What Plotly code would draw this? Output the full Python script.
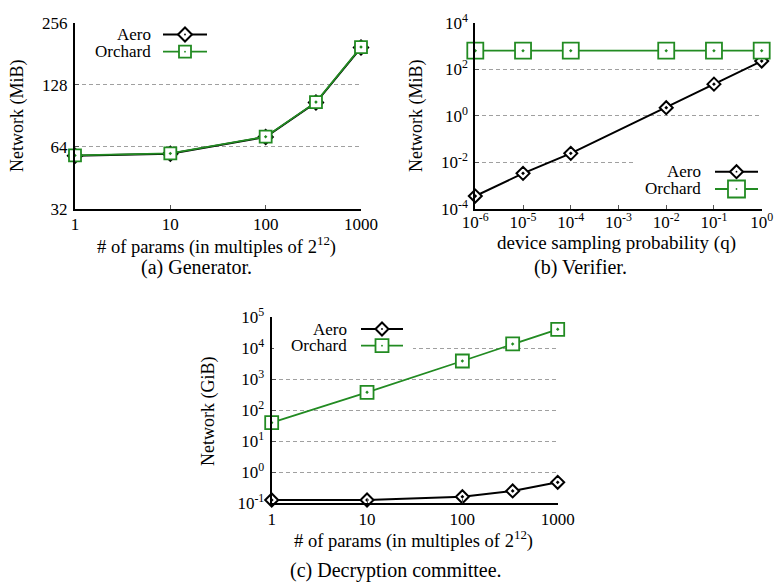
import plotly.graph_objects as go

# ---------------- data ----------------
params = [1, 10, 100, 337, 1000]
gen_aero = [58.0, 59.3, 71.5, 105.0, 194.0]
gen_orchard = [58.2, 59.5, 71.7, 105.5, 195.0]

q_vals = [1e-6, 1e-5, 1e-4, 1e-2, 1e-1, 1.0]
ver_aero = [3.6e-4, 3.4e-3, 0.0245, 2.24, 23.0, 225.0]
ver_orchard = [630.0, 630.0, 630.0, 630.0, 630.0, 630.0]

dec_aero = [0.128, 0.128, 0.163, 0.25, 0.475]
dec_orchard = [40.0, 380.0, 3900.0, 13800.0, 41000.0]

param_ticks = [1, 10, 100, 1000]
param_ticktext = ["1", "10", "100", "1000"]
gen_yticks = [32, 64, 128, 256]
q_ticks = [1e-6, 1e-5, 1e-4, 1e-3, 1e-2, 1e-1, 1.0]
q_ticktext = ["10<sup>-6</sup>", "10<sup>-5</sup>", "10<sup>-4</sup>", "10<sup>-3</sup>",
              "10<sup>-2</sup>", "10<sup>-1</sup>", "10<sup>0</sup>"]
ver_yticks = [1e-4, 1e-2, 1.0, 1e2, 1e4]
ver_yticktext = ["10<sup>-4</sup>", "10<sup>-2</sup>", "10<sup>0</sup>", "10<sup>2</sup>", "10<sup>4</sup>"]
dec_yticks = [0.1, 1, 10, 100, 1e3, 1e4, 1e5]
dec_yticktext = ["10<sup>-1</sup>", "10<sup>0</sup>", "10<sup>1</sup>", "10<sup>2</sup>",
                 "10<sup>3</sup>", "10<sup>4</sup>", "10<sup>5</sup>"]

# ---------------- style ----------------
W, H = 774, 585
FONT = "Liberation Serif"
BLACK = "#000000"
GREEN = "#228b22"


def px(x):
    return x / W


def py(y):
    return 1 - y / H


fig = go.Figure()


def add_pair(xs, ya, yo, xa, yax, dsize, ssize):
    fig.add_trace(go.Scatter(
        x=xs, y=ya, name="Aero", mode="lines+markers", xaxis=xa, yaxis=yax,
        line=dict(color=BLACK, width=2),
        marker=dict(symbol="diamond-dot", size=dsize, color="white",
                    line=dict(color=BLACK, width=2)),
        cliponaxis=False, showlegend=False))
    fig.add_trace(go.Scatter(
        x=xs, y=yo, name="Orchard", mode="lines+markers", xaxis=xa, yaxis=yax,
        line=dict(color=GREEN, width=1.8),
        marker=dict(symbol="square-dot", size=ssize, color="white",
                    line=dict(color=GREEN, width=1.8)),
        cliponaxis=False, showlegend=False))


add_pair(params, gen_aero, gen_orchard, "x", "y", 11, 12)
add_pair(q_vals, ver_aero, ver_orchard, "x2", "y2", 10, 16)
add_pair(params, dec_aero, dec_orchard, "x3", "y3", 10, 13)

axis_common = dict(
    showline=True, linecolor=BLACK, linewidth=2, mirror=False,
    ticks="inside", ticklen=4, tickwidth=1, tickcolor="#555",
    tickfont=dict(family=FONT, size=17, color=BLACK),
    zeroline=False, automargin=False,
)
ylab = dict(ticklabelstandoff=2)
ygrid = dict(showgrid=True, gridcolor="#a0a0a0", griddash="4px,3px", gridwidth=1)

# panel pixel boxes: (left, top, right, bottom)
A = (75, 22.7, 361, 209)
B = (475.3, 22.7, 761.7, 209)
C = (271.7, 317.3, 557.7, 503.3)


def dom(box):
    l, t, r, b = box
    return [px(l), px(r)], [py(b), py(t)]


ax_dom, ay_dom = dom(A)
bx_dom, by_dom = dom(B)
cx_dom, cy_dom = dom(C)

fig.update_layout(
    width=W, height=H, margin=dict(l=0, r=0, t=0, b=0, autoexpand=False),
    paper_bgcolor="white", plot_bgcolor="white",
    font=dict(family=FONT, size=17, color=BLACK),
    xaxis=dict(domain=ax_dom, anchor="y", type="log", range=[0, 3], ticklabelstandoff=-1,
               tickvals=param_ticks, ticktext=param_ticktext, showgrid=False, **axis_common),
    yaxis=dict(domain=ay_dom, anchor="x", type="log", range=[1.50515, 2.40824],
               tickvals=gen_yticks, ticktext=[str(v) for v in gen_yticks], **ylab, **ygrid, **axis_common),
    xaxis2=dict(domain=bx_dom, anchor="y2", type="log", range=[-6, 0], ticklabelstandoff=-3,
                tickvals=q_ticks, ticktext=q_ticktext, showgrid=False, **axis_common),
    yaxis2=dict(domain=by_dom, anchor="x2", type="log", range=[-4, 4],
                tickvals=ver_yticks, ticktext=ver_yticktext, **ylab, **ygrid, **axis_common),
    xaxis3=dict(domain=cx_dom, anchor="y3", type="log", range=[0, 3], ticklabelstandoff=-1,
                tickvals=param_ticks, ticktext=param_ticktext, showgrid=False, **axis_common),
    yaxis3=dict(domain=cy_dom, anchor="x3", type="log", range=[-1, 5],
                tickvals=dec_yticks, ticktext=dec_yticktext, **ylab, **ygrid, **axis_common),
)

annotations = []
shapes = []


def text(x, y, s, size=18, angle=0, xanchor="center"):
    annotations.append(dict(x=px(x), y=py(y), xref="paper", yref="paper", text=s,
                            showarrow=False, textangle=angle, xanchor=xanchor, yanchor="middle",
                            font=dict(family=FONT, size=size, color=BLACK)))


# axis titles
text(18, 116, "Network (MiB)", angle=-90)
text(417, 116, "Network (MiB)", angle=-90)
text(208, 412, "Network (GiB)", angle=-90)
text(217, 245, "# of params (in multiples of 2<sup>12</sup>)", size=18.5)
text(616, 242.5, "device sampling probability (q)", size=19)
text(414, 539, "# of params (in multiples of 2<sup>12</sup>)", size=18.5)

# captions
text(196, 268, "(a) Generator.", size=20)
text(580, 268, "(b) Verifier.", size=20)
text(396, 570, "(c) Decryption committee.", size=20)


# custom gnuplot-style legends: text right-aligned, sample on the right
def legend(bg, text_right, x0, x1, rows):
    if bg is not None:
        l, t, r, b = bg
        shapes.append(dict(type="rect", xref="paper", yref="paper", x0=px(l), x1=px(r),
                           y0=py(b), y1=py(t), fillcolor="white", line=dict(width=0), layer="above"))
    for (label, y, color, kind, half) in rows:
        text(text_right, y, label, size=17, xanchor="right")
        shapes.append(dict(type="line", xref="paper", yref="paper", x0=px(x0), x1=px(x1),
                           y0=py(y), y1=py(y), line=dict(color=color, width=2 if kind == "d" else 1.8),
                           layer="above"))
        cx = (x0 + x1) / 2
        if kind == "d":
            path = "M {},{} L {},{} L {},{} L {},{} Z".format(
                px(cx - half), py(y), px(cx), py(y - half), px(cx + half), py(y), px(cx), py(y + half))
            shapes.append(dict(type="path", xref="paper", yref="paper", path=path, fillcolor="white",
                               line=dict(color=color, width=2), layer="above"))
        else:
            shapes.append(dict(type="rect", xref="paper", yref="paper", x0=px(cx - half), x1=px(cx + half),
                               y0=py(y + half), y1=py(y - half), fillcolor="white",
                               line=dict(color=color, width=1.8), layer="above"))
        shapes.append(dict(type="circle", xref="paper", yref="paper", x0=px(cx - 0.9), x1=px(cx + 0.9),
                           y0=py(y + 0.9), y1=py(y - 0.9), fillcolor=color, line=dict(width=0),
                           layer="above"))


legend(None, 153, 163, 207, [("Aero", 34.5, BLACK, "d", 7), ("Orchard", 51.7, GREEN, "s", 6)])
legend((633, 160, 770, 200), 703, 715, 758, [("Aero", 171.7, BLACK, "d", 6.5), ("Orchard", 189, GREEN, "s", 8.5)])
legend((274, 320, 413, 356), 349, 361, 403, [("Aero", 329, BLACK, "d", 6.5), ("Orchard", 345.7, GREEN, "s", 6.5)])

fig.update_layout(annotations=annotations, shapes=shapes)

fig.write_html("out.html", config={"displayModeBar": False},
               post_script="document.body.style.margin='0px';")
